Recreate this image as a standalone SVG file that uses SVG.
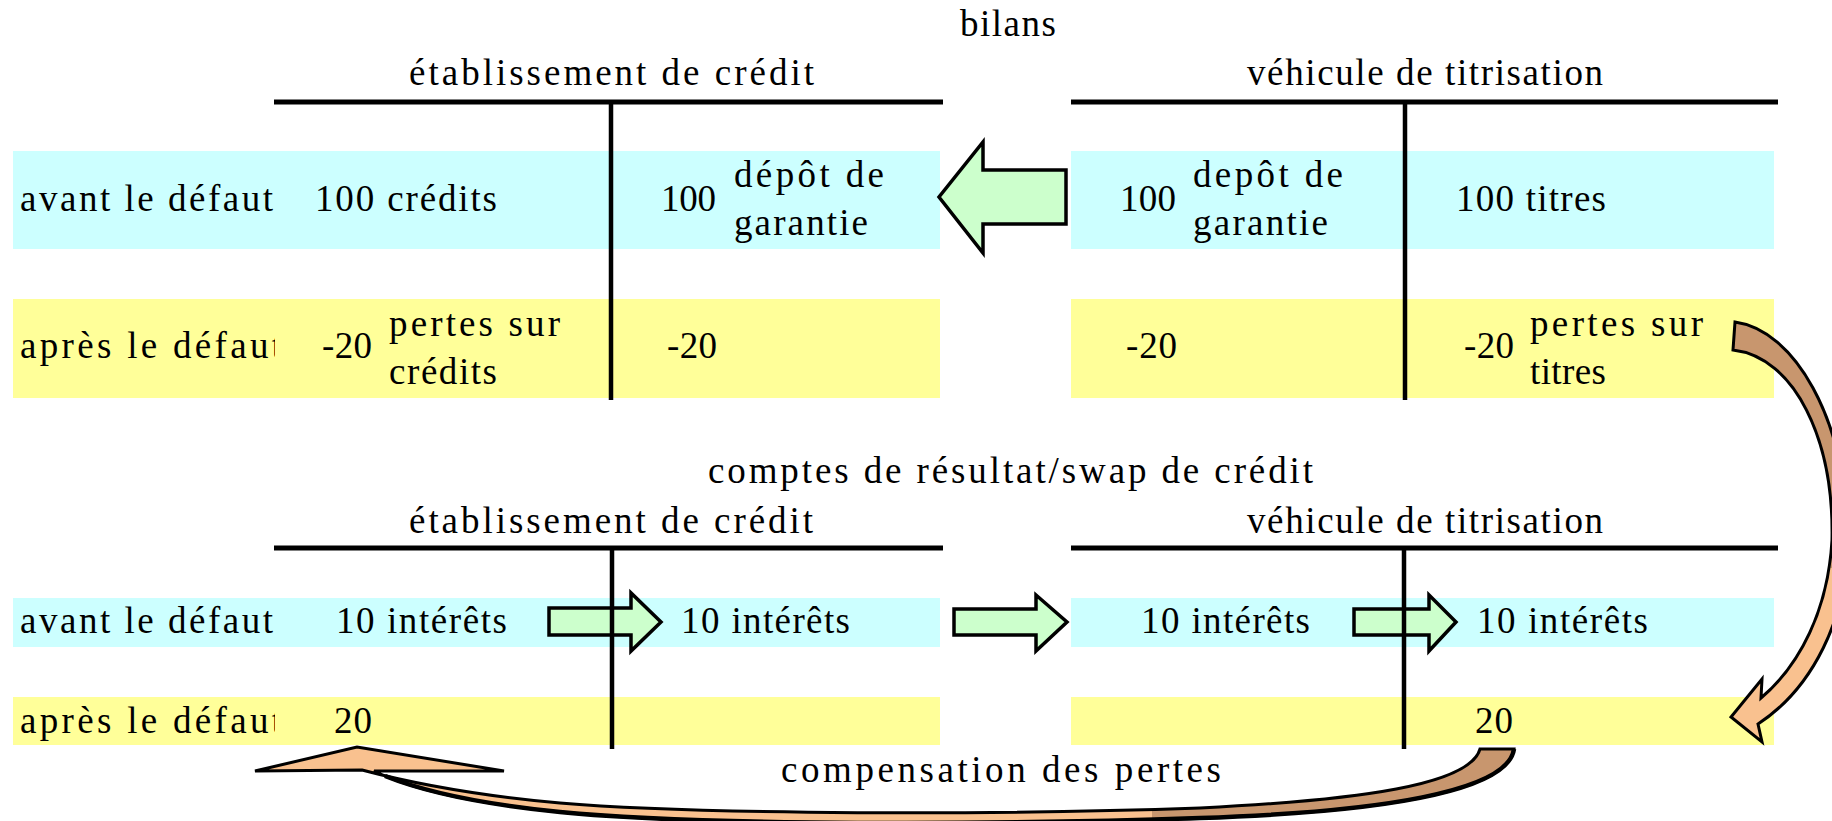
<svg xmlns="http://www.w3.org/2000/svg" width="1832" height="821" viewBox="0 0 1832 821">
<style>
  text { font-family: "Liberation Serif", "Times New Roman", serif; font-size: 37px; fill: #000; }
  .blue { fill: #CCFFFF; }
  .yellow { fill: #FFFF99; }
  .hline { stroke: #000; stroke-width: 5; fill: none; }
  .vline { stroke: #000; stroke-width: 4.5; fill: none; }
  .garrow { fill: #CCFFCC; stroke: #000; stroke-width: 3.5; stroke-linejoin: miter; }
  .carrow { stroke: #000; stroke-width: 3; stroke-linejoin: miter; }
  .edge { stroke: #000; stroke-width: 4.5; fill: none; stroke-linecap: butt; }
  .clip { clip-path: url(#labelClip); }
</style>
<defs>
  <clipPath id="labelClip"><rect x="0" y="0" width="275" height="821"/></clipPath>
  <linearGradient id="gRight" gradientUnits="userSpaceOnUse" x1="0" y1="300" x2="0" y2="740">
    <stop offset="0" stop-color="#C8966E"/>
    <stop offset="0.61" stop-color="#C8966E"/>
    <stop offset="0.61" stop-color="#F9C18F"/>
    <stop offset="1" stop-color="#F9C18F"/>
  </linearGradient>
  <linearGradient id="gBottom" gradientUnits="userSpaceOnUse" x1="250" y1="0" x2="1520" y2="0">
    <stop offset="0" stop-color="#F9C18F"/>
    <stop offset="0.71" stop-color="#F9C18F"/>
    <stop offset="0.71" stop-color="#C8966E"/>
    <stop offset="1" stop-color="#C8966E"/>
  </linearGradient>
</defs>
<rect x="0" y="0" width="1832" height="821" fill="#FFFFFF"/>

<g id="bands">
  <rect class="blue" x="13" y="151" width="927" height="98"/>
  <rect class="yellow" x="13" y="299" width="927" height="99"/>
  <rect class="blue" x="1071" y="151" width="703" height="98"/>
  <rect class="yellow" x="1071" y="299" width="703" height="99"/>
  <rect class="blue" x="13" y="598" width="927" height="49"/>
  <rect class="yellow" x="13" y="697" width="927" height="48"/>
  <rect class="blue" x="1071" y="598" width="703" height="49"/>
  <rect class="yellow" x="1071" y="697" width="703" height="48"/>
</g>

<g id="connectors">
  <polygon id="arrow-depot" class="garrow" points="1066,170 983,170 983,142 939,197 983,253 983,224 1066,224"/>
  <polygon id="arrow-int1" class="garrow" points="549,608 631,608 631,593 661,622 631,651 631,635 549,635"/>
  <polygon id="arrow-int2" class="garrow" points="954,609 1036,609 1036,595 1067,622 1036,651 1036,635 954,635"/>
  <polygon id="arrow-int3" class="garrow" points="1354,609 1429,609 1429,595 1456,622 1429,651 1429,635 1354,635"/>
  <path id="arrow-pertes" class="carrow" fill="url(#gRight)" d="M1735,322 C1795,330 1845,420 1848,530 C1850,620 1810,690 1758,724 L1762,742 L1731,717 L1762,679 L1761,698 C1800,665 1828,610 1832,540 C1834,440 1795,357 1733,350 Z"/>
  <g id="arrow-compensation">
    <path class="carrow" fill="url(#gBottom)" d="M1480,749 L1514,749 C1508,792 1380,812 1200,818 C1000,825 700,826 560,812 C470,803 410,789 374,771 L504,771 L357,747 L255,771 L362,770 C400,780 470,795 560,803 C700,815 1000,815 1200,808 C1360,800 1470,785 1480,749 Z"/>
    <path class="edge" d="M1514,749 C1508,792 1380,812 1200,818 C1000,825 700,826 560,812 C470,803 420,790 385,776"/>
  </g>
</g>

<g id="title-bilans">
  <text x="960" y="36" textLength="96" lengthAdjust="spacing">bilans</text>
</g>

<g id="bilan-etablissement">
  <line class="hline" x1="274" y1="102" x2="943" y2="102"/>
  <line class="vline" x1="611" y1="102" x2="611" y2="400"/>
  <text x="409" y="85" textLength="405" lengthAdjust="spacing">établissement de crédit</text>
  <text x="20" y="211" textLength="253" lengthAdjust="spacing">avant le défaut</text>
  <text x="315" y="211" textLength="182" lengthAdjust="spacing">100 crédits</text>
  <text x="661" y="211" textLength="55" lengthAdjust="spacing">100</text>
  <text x="734" y="187" textLength="150" lengthAdjust="spacing">dépôt de</text>
  <text x="734" y="235" textLength="134" lengthAdjust="spacing">garantie</text>
  <text class="clip" x="20" y="358" textLength="262" lengthAdjust="spacing">après le défaut</text>
  <text x="322" y="358" textLength="50" lengthAdjust="spacing">-20</text>
  <text x="389" y="336" textLength="171" lengthAdjust="spacing">pertes sur</text>
  <text x="389" y="384" textLength="108" lengthAdjust="spacing">crédits</text>
  <text x="667" y="358" textLength="50" lengthAdjust="spacing">-20</text>
</g>

<g id="bilan-vehicule">
  <line class="hline" x1="1071" y1="102" x2="1778" y2="102"/>
  <line class="vline" x1="1405" y1="102" x2="1405" y2="400"/>
  <text x="1247" y="85" textLength="356" lengthAdjust="spacing">véhicule de titrisation</text>
  <text x="1120" y="211" textLength="56" lengthAdjust="spacing">100</text>
  <text x="1193" y="187" textLength="150" lengthAdjust="spacing">depôt de</text>
  <text x="1193" y="235" textLength="135" lengthAdjust="spacing">garantie</text>
  <text x="1456" y="211" textLength="150" lengthAdjust="spacing">100 titres</text>
  <text x="1126" y="358" textLength="51" lengthAdjust="spacing">-20</text>
  <text x="1464" y="358" textLength="50" lengthAdjust="spacing">-20</text>
  <text x="1530" y="336" textLength="173" lengthAdjust="spacing">pertes sur</text>
  <text x="1530" y="384" textLength="76" lengthAdjust="spacing">titres</text>
</g>

<g id="title-comptes">
  <text x="708" y="483" textLength="605" lengthAdjust="spacing">comptes de résultat/swap de crédit</text>
</g>

<g id="compte-etablissement">
  <line class="hline" x1="274" y1="548" x2="943" y2="548"/>
  <line class="vline" x1="612" y1="548" x2="612" y2="749"/>
  <text x="409" y="533" textLength="404" lengthAdjust="spacing">établissement de crédit</text>
  <text x="20" y="633" textLength="253" lengthAdjust="spacing">avant le défaut</text>
  <text x="336" y="633" textLength="171" lengthAdjust="spacing">10 intérêts</text>
  <text x="681" y="633" textLength="169" lengthAdjust="spacing">10 intérêts</text>
  <text class="clip" x="20" y="733" textLength="262" lengthAdjust="spacing">après le défaut</text>
  <text x="334" y="733" textLength="38" lengthAdjust="spacing">20</text>
</g>

<g id="compte-vehicule">
  <line class="hline" x1="1071" y1="548" x2="1778" y2="548"/>
  <line class="vline" x1="1404" y1="548" x2="1404" y2="749"/>
  <text x="1247" y="533" textLength="356" lengthAdjust="spacing">véhicule de titrisation</text>
  <text x="1141" y="633" textLength="169" lengthAdjust="spacing">10 intérêts</text>
  <text x="1477" y="633" textLength="171" lengthAdjust="spacing">10 intérêts</text>
  <text x="1475" y="733" textLength="38" lengthAdjust="spacing">20</text>
</g>

<g id="label-compensation">
  <text x="781" y="782" textLength="440" lengthAdjust="spacing">compensation des pertes</text>
</g>
</svg>
